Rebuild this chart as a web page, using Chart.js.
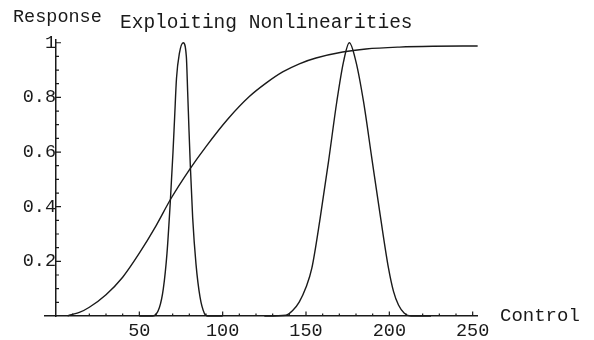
<!DOCTYPE html>
<html>
<head>
<meta charset="utf-8">
<script src="https://cdn.jsdelivr.net/npm/chart.js@4.4.1/dist/chart.umd.min.js"></script>
<style>
  html, body { margin: 0; padding: 0; background: #ffffff; }
  #c { display: block; }
</style>
</head>
<body>
<canvas id="c" width="594" height="340"></canvas>
<script>
// ---- data ----
const sigmoidX = [7, 8, 14, 20, 30, 40, 50, 60, 69, 80, 90, 103, 116, 126, 136, 146, 156, 172, 186, 206, 226, 253];
const sigmoidY = [0, 0.003, 0.013, 0.032, 0.078, 0.142, 0.23, 0.33, 0.43, 0.535, 0.62, 0.72, 0.803, 0.852, 0.893, 0.923, 0.944, 0.966, 0.977, 0.984, 0.987, 0.988];

const narrowX = [50, 58, 62, 64.4, 66.6, 68.6, 70.2, 71.2, 72.3, 74, 76.3, 78.2, 79, 79.8, 80.6, 82, 84, 86.4, 89, 91, 100];
const narrowY = [0, 0, 0.03, 0.1, 0.23, 0.42, 0.6, 0.73, 0.87, 0.96, 1.0, 0.95, 0.82, 0.68, 0.55, 0.36, 0.19, 0.07, 0.01, 0, 0];

const wideX = [125, 138, 142, 146, 150, 153.5, 158.5, 163.5, 168.5, 172.5, 176, 180, 184.5, 189.5, 194.5, 199.5, 202.5, 205.5, 209, 213, 225];
const wideY = [0, 0.003, 0.02, 0.052, 0.105, 0.175, 0.358, 0.565, 0.785, 0.93, 1.0, 0.93, 0.785, 0.577, 0.37, 0.175, 0.09, 0.04, 0.01, 0, 0];

const xMajorTicks = [50, 100, 150, 200, 250];
const xMinorTicks = [10, 20, 30, 40, 60, 70, 80, 90, 110, 120, 130, 140, 160, 170, 180, 190, 210, 220, 230, 240];
const yMajorTicks = [0.2, 0.4, 0.6, 0.8, 1];
const yMinorTicks = [0.05, 0.1, 0.15, 0.25, 0.3, 0.35, 0.45, 0.5, 0.55, 0.65, 0.7, 0.75, 0.85, 0.9, 0.95];

const titleText = 'Exploiting Nonlinearities';
const yAxisTitle = 'Response';
const xAxisTitle = 'Control';

// ---- chart ----
const INK = '#1a1a1a';
const FONT = "'Liberation Mono', 'DejaVu Sans Mono', monospace";
const pts = (xs, ys) => xs.map((x, i) => ({x: x, y: ys[i]}));

const lineStyle = {
  showLine: true, pointRadius: 0, borderColor: INK, borderWidth: 1.4,
  cubicInterpolationMode: 'monotone', fill: false, clip: false
};

const decor = {
  id: 'decor',
  afterDraw(chart) {
    const ctx = chart.ctx;
    const xs = chart.scales.x, ys = chart.scales.y;
    const x0 = xs.getPixelForValue(0);
    const y0 = ys.getPixelForValue(0);
    ctx.save();
    ctx.strokeStyle = INK;
    ctx.lineWidth = 1.2;
    ctx.beginPath();
    xMajorTicks.forEach(v => { const p = xs.getPixelForValue(v); ctx.moveTo(p, y0); ctx.lineTo(p, y0 - 4.5); });
    xMinorTicks.forEach(v => { const p = xs.getPixelForValue(v); ctx.moveTo(p, y0); ctx.lineTo(p, y0 - 2.5); });
    yMajorTicks.forEach(v => { const p = ys.getPixelForValue(v); ctx.moveTo(x0, p); ctx.lineTo(x0 + 5, p); });
    yMinorTicks.forEach(v => { const p = ys.getPixelForValue(v); ctx.moveTo(x0, p); ctx.lineTo(x0 + 3, p); });
    ctx.stroke();

    ctx.fillStyle = INK;
    ctx.textBaseline = 'alphabetic';
    ctx.textAlign = 'left';
    ctx.font = '18.5px ' + FONT;
    ctx.fillText(yAxisTitle, 13, 22);
    ctx.font = '19.5px ' + FONT;
    ctx.fillText(titleText, 120, 28);
    ctx.font = '19px ' + FONT;
    ctx.fillText(xAxisTitle, 500, 321);
    ctx.restore();
  }
};

new Chart(document.getElementById('c'), {
  type: 'scatter',
  data: {
    datasets: [
      Object.assign({label: 'sigmoid', data: pts(sigmoidX, sigmoidY)}, lineStyle),
      Object.assign({label: 'narrow', data: pts(narrowX, narrowY)}, lineStyle),
      Object.assign({label: 'wide', data: pts(wideX, wideY)}, lineStyle)
    ]
  },
  options: {
    responsive: false,
    animation: false,
    devicePixelRatio: 1,
    layout: { padding: { left: 45, right: 117, top: 40, bottom: 0 } },
    plugins: { legend: { display: false }, tooltip: { enabled: false }, title: { display: false } },
    scales: {
      x: {
        type: 'linear', min: -6.6, max: 252.6, position: 'bottom',
        grid: { display: false, drawTicks: false },
        border: { display: true, color: INK, width: 1.5 },
        ticks: { color: INK, font: { family: FONT, size: 18.5 }, padding: 4, maxRotation: 0, autoSkip: false },
        afterBuildTicks: s => { s.ticks = xMajorTicks.map(v => ({value: v})); },
        afterFit: s => { s.height = 24; }
      },
      y: {
        type: 'linear', min: 0, max: 1.01, position: { x: 0 },
        grid: { display: false, drawTicks: false },
        border: { display: true, color: INK, width: 1.5 },
        ticks: { color: INK, font: { family: FONT, size: 18.5 }, padding: 2, autoSkip: false,
                 callback: v => String(v) },
        afterBuildTicks: s => { s.ticks = yMajorTicks.map(v => ({value: v})); }
      }
    }
  },
  plugins: [decor]
});
</script>
</body>
</html>
